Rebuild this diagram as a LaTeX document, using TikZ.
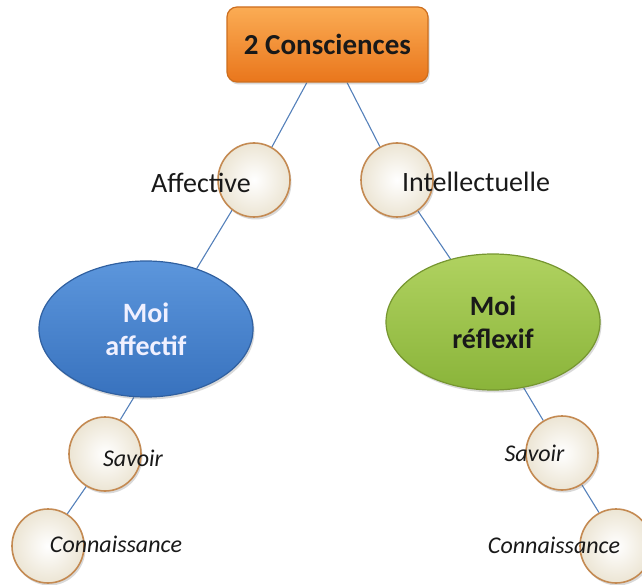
\documentclass[tikz,border=0pt]{standalone}
\usepackage{fontspec}
\setmainfont{Carlito}
\usetikzlibrary{shapes.geometric,shadows}
\pgfdeclarelayer{background}
\pgfsetlayers{background,main}

\definecolor{linkblue}{RGB}{84,128,186}
\definecolor{boxtop}{RGB}{251,172,84}
\definecolor{boxbottom}{RGB}{233,118,28}
\definecolor{boxedge}{RGB}{205,110,30}
\definecolor{bluetop}{RGB}{92,150,220}
\definecolor{bluebottom}{RGB}{56,114,190}
\definecolor{blueedge}{RGB}{48,96,160}
\definecolor{greentop}{RGB}{176,210,96}
\definecolor{greenbottom}{RGB}{138,180,58}
\definecolor{greenedge}{RGB}{118,150,48}
\definecolor{bubbleouter}{RGB}{236,229,212}
\definecolor{bubbleedge}{RGB}{196,138,82}

\tikzset{
  softshadow/.style={drop shadow={shadow xshift=1.5pt, shadow yshift=-2.5pt, opacity=0.25, fill=black!60}},
  topbox/.style={rectangle, rounded corners=10pt, draw=boxedge, line width=1.2pt,
    top color=boxtop, bottom color=boxbottom, minimum width=201pt, minimum height=75pt,
    inner sep=0pt, font=\bfseries\fontsize{29}{34}\selectfont, text=black!90, softshadow},
  bubble/.style={ellipse, draw=bubbleedge, line width=1.6pt, inner color=white,
    outer color=bubbleouter, minimum width=72pt, minimum height=74pt, inner sep=0pt, softshadow},
  moi/.style={ellipse, minimum width=214pt, minimum height=136pt, inner sep=0pt,
    align=center, line width=1.2pt, font=\bfseries\fontsize{28}{33}\selectfont, softshadow},
  moiblue/.style={moi, draw=blueedge, top color=bluetop, bottom color=bluebottom, text=white!94!blue},
  moigreen/.style={moi, draw=greenedge, top color=greentop, bottom color=greenbottom, text=black!90},
  link/.style={draw=linkblue, line width=1.1pt},
  tag/.style={anchor=base, inner sep=0pt, text=black!90, font=\fontsize{28}{34}\selectfont},
  itag/.style={anchor=base, inner sep=0pt, text=black!90, font=\itshape\fontsize{24}{28}\selectfont},
}

\begin{document}
\begin{tikzpicture}[x=1pt, y=-1pt]
  \useasboundingbox (0,0) rectangle (642,585);

  % root
  \node[topbox] (root) at (327.5,44.5) {2 Consciences};

  % first level bubbles
  \node[bubble] (aff) at (254,180) {};
  \node[bubble] (int) at (397,180) {};

  % the two selves
  \node[moiblue]  (moiA) at (146,329) {Moi\\affectif};
  \node[moigreen] (moiR) at (493,322) {Moi\\réflexif};

  % lower bubbles
  \node[bubble] (savA) at (105,454) {};
  \node[bubble] (conA) at (48,546) {};
  \node[bubble] (savR) at (562,453) {};
  \node[bubble] (conR) at (616,546) {};

  % bubble labels
  \node[tag]  (affT) at (201,193) {Affective};
  \node[tag]  (intT) at (476,192) {Intellectuelle};
  \node[itag] (savAT) at (133,466) {Savoir};
  \node[itag] (conAT) at (116,552) {Connaissance};
  \node[itag] (savRT) at (534.5,461) {Savoir};
  \node[itag] (conRT) at (554,553) {Connaissance};

  % connectors
  \begin{pgfonlayer}{background}
    \draw[link] (root) -- (aff);
    \draw[link] (root) -- (int);
    \draw[link] (aff.-126) -- (moiA.50);
    \draw[link] (int.-56) -- (moiR.124);
    \draw[link] (moiA.-100) -- (savA.66);
    \draw[link] (savA.-120) -- (conA.59);
    \draw[link] (moiR.-65) -- (savR.120);
    \draw[link] (savR.-58) -- (conR.117);
  \end{pgfonlayer}
\end{tikzpicture}
\end{document}
